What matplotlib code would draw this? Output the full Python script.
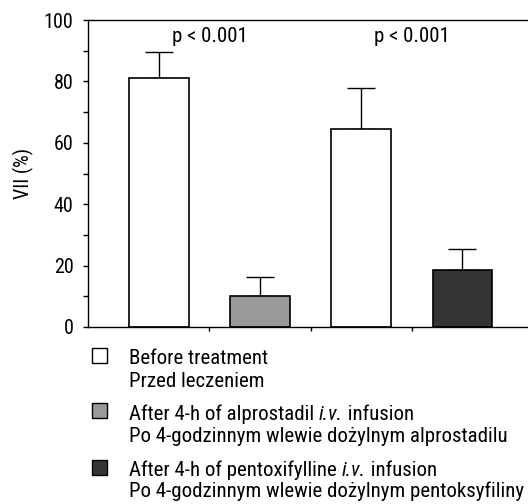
import matplotlib
matplotlib.use("Agg")
import matplotlib.pyplot as plt
from matplotlib.patches import Rectangle
from matplotlib.ticker import MultipleLocator

plt.rcParams['font.family'] = ['Roboto Condensed', 'DejaVu Sans']

# dane
groups = ['Before treatment', 'After alprostadil', 'Before treatment', 'After pentoxifylline']
vii_mean = [81.2, 10.0, 64.6, 18.6]
vii_err = [8.3, 6.4, 13.1, 6.7]
bar_colors = ['white', '#999999', 'white', '#333333']
p_labels = ['p < 0.001', 'p < 0.001']
p_pos = [0.5, 2.5]

legend_colors = ['white', '#999999', '#333333']
legend_lines = [
    ('Before treatment', None, None, 'Przed leczeniem'),
    ('After 4-h of alprostadil ', 'i.v.', ' infusion', 'Po 4-godzinnym wlewie dożylnym alprostadilu'),
    ('After 4-h of pentoxifylline ', 'i.v.', ' infusion', 'Po 4-godzinnym wlewie dożylnym pentoksyfiliny'),
]

W, H = 528, 504
fig = plt.figure(figsize=(W / 100, H / 100), dpi=100)
ax = fig.add_axes([88 / W, 1 - 327 / H, 1 - 88 / W + 0.01, (327 - 20) / H])

x = range(len(vii_mean))
ax.bar(x, vii_mean, width=0.59, color=bar_colors, edgecolor='black', linewidth=1.2, zorder=2)
ax.errorbar(x, vii_mean, yerr=[[0] * len(vii_err), vii_err], fmt='none',
            ecolor='black', elinewidth=1, capsize=10, capthick=1, zorder=1)

for xp, lab in zip(p_pos, p_labels):
    ax.text(xp, 94.5, lab, ha='center', va='center', fontsize=15)

ax.set_xlim(-0.70, 3.70)
ax.set_ylim(0, 100)
ax.yaxis.set_major_locator(MultipleLocator(20))
ax.yaxis.set_minor_locator(MultipleLocator(10))
ax.set_xticks([0.5, 1.5, 2.5])
ax.set_xticklabels([])
ax.tick_params(axis='y', which='major', length=3.5, width=1, labelsize=14.5, pad=7)
ax.tick_params(axis='y', which='minor', length=3.5, width=1)
ax.tick_params(axis='x', length=3, width=1)
ax.spines['right'].set_visible(False)
for s in ['left', 'top', 'bottom']:
    ax.spines[s].set_linewidth(1)
ax.set_ylabel('VII (%)', fontsize=14.5, labelpad=7)

# legenda (piksele od góry)
sq_top = [348, 403, 460]
base1 = [364, 420, 476]
base2 = [387, 442, 497]
for col, (l1a, l1b, l1c, l2), st, b1, b2 in zip(legend_colors, legend_lines, sq_top, base1, base2):
    fig.patches.append(Rectangle((92 / W, 1 - (st + 15) / H), 15 / W, 15 / H,
                                 transform=fig.transFigure, facecolor=col,
                                 edgecolor='black', linewidth=1))
    t = fig.text(129 / W, 1 - b1 / H, l1a, fontsize=15, va='baseline')
    if l1b:
        t2 = ax.annotate(l1b, xy=(1, 0), xycoords=t, va='bottom', fontsize=15,
                         style='italic', annotation_clip=False)
        ax.annotate(l1c, xy=(1, 0), xycoords=t2, va='bottom', fontsize=15,
                    annotation_clip=False)
    fig.text(129 / W, 1 - b2 / H, l2, fontsize=15, va='baseline')

fig.savefig('out.png', dpi=100)
